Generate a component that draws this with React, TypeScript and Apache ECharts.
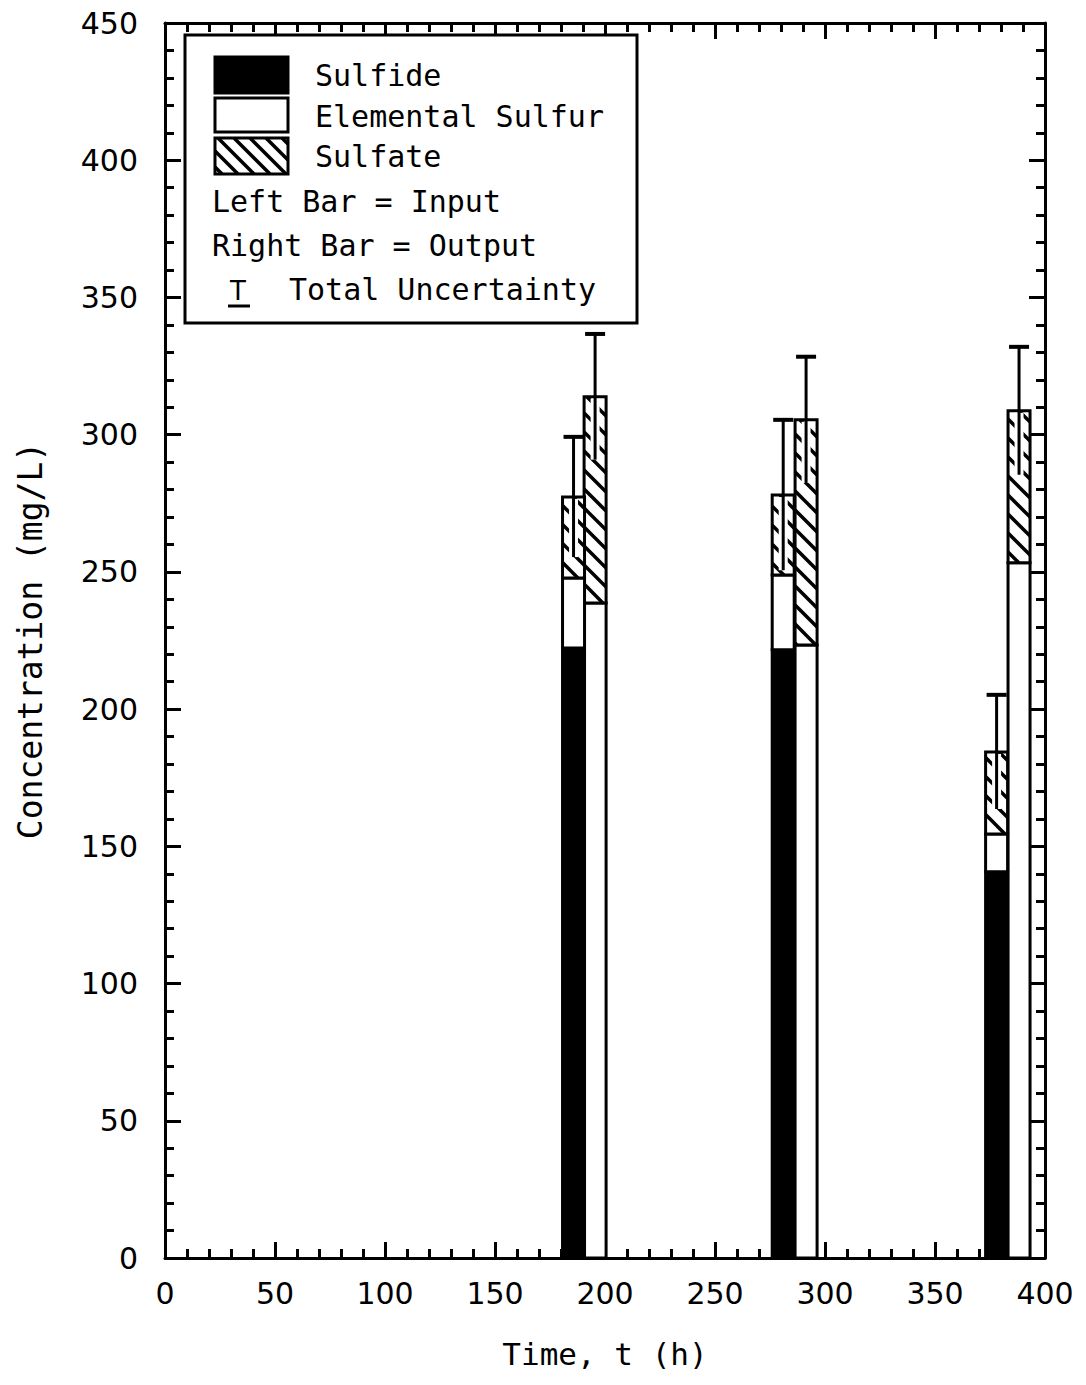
import React, { useEffect, useRef } from "react";
import * as echarts from "echarts";

// ---- data ----
const inputTimes = [185.7, 281.0, 378.0];
const outputTimes = [195.5, 291.4, 388.2];
const inputSulfide = [222.3, 221.6, 140.7];
const inputElemental = [25.5, 27.3, 13.8];
const inputSulfate = [29.5, 29.1, 29.9];
const inputUncertainty = [21.9, 27.4, 20.8];
const outputSulfide = [0, 0, 0];
const outputElemental = [238.7, 223.4, 253.3];
const outputSulfate = [75.1, 82.0, 55.4];
const outputUncertainty = [22.9, 23.0, 23.3];
const legendLabels = ["Sulfide", "Elemental Sulfur", "Sulfate"];
const legendNotes = ["Left Bar = Input", "Right Bar = Output", "Total Uncertainty"];
const xTitle = "Time, t (h)";
const yTitle = "Concentration (mg/L)";

const BAR_HALF_WIDTH_H = 5;
const MONO = '"DejaVu Sans Mono", monospace';
const SANS = '"DejaVu Sans", sans-serif';

function hatchLines(x0: number, y0: number, x1: number, y1: number, spacing: number, lw: number) {
  const out: any[] = [];
  const cMin = y0 - x1;
  const cMax = y1 - x0;
  const kStart = Math.ceil(cMin / spacing);
  for (let k = kStart; k * spacing <= cMax; k++) {
    const c = k * spacing;
    const xs = Math.max(x0, y0 - c);
    const xe = Math.min(x1, y1 - c);
    if (xe - xs > 0.5) {
      out.push({
        type: "line",
        shape: { x1: xs, y1: xs + c, x2: xe, y2: xe + c },
        style: { stroke: "#000", lineWidth: 3.5 },
      });
    }
  }
  return out;
}

function makeRender(
  times: number[],
  sulfide: number[],
  elemental: number[],
  sulfate: number[],
  unc: number[]
) {
  return (params: any, api: any) => {
    const i = params.dataIndex;
    const t = times[i];
    const xl = api.coord([t - BAR_HALF_WIDTH_H, 0])[0];
    const xr = api.coord([t + BAR_HALF_WIDTH_H, 0])[0];
    const y0 = api.coord([t, 0])[1];
    const y1 = api.coord([t, sulfide[i]])[1];
    const y2 = api.coord([t, sulfide[i] + elemental[i]])[1];
    const total = sulfide[i] + elemental[i] + sulfate[i];
    const y3 = api.coord([t, total])[1];
    const eHi = api.coord([t, total + unc[i]])[1];
    const eLo = api.coord([t, total - unc[i]])[1];
    const xc = (xl + xr) / 2;
    const w = xr - xl;
    const children: any[] = [];
    if (sulfide[i] > 0) {
      children.push({
        type: "rect",
        shape: { x: xl, y: y1, width: w, height: y0 - y1 },
        style: { fill: "#000", stroke: "#000", lineWidth: 3 },
      });
    }
    children.push({
      type: "rect",
      shape: { x: xl, y: y2, width: w, height: y1 - y2 },
      style: { fill: "#fff", stroke: "#000", lineWidth: 3 },
    });
    children.push({
      type: "rect",
      shape: { x: xl, y: y3, width: w, height: y2 - y3 },
      style: { fill: "#fff", stroke: "none" },
    });
    children.push(...hatchLines(xl, y3, xr, y2, 19, 3.5));
    children.push({
      type: "rect",
      shape: { x: xl, y: y3, width: w, height: y2 - y3 },
      style: { fill: "none", stroke: "#000", lineWidth: 3 },
    });
    // error bar
    children.push({
      type: "line",
      shape: { x1: xc, y1: y3 + 2, x2: xc, y2: eLo },
      style: { stroke: "#fff", lineWidth: 9 },
    });
    children.push({
      type: "line",
      shape: { x1: xc, y1: eHi, x2: xc, y2: eLo },
      style: { stroke: "#000", lineWidth: 3 },
    });
    children.push({
      type: "line",
      shape: { x1: xc - 10, y1: eHi, x2: xc + 10, y2: eHi },
      style: { stroke: "#000", lineWidth: 4 },
    });
    return { type: "group", children };
  };
}

function axisCommon(extra: any) {
  return {
    type: "value",
    axisLine: { show: true, onZero: false, lineStyle: { color: "#000", width: 3 } },
    axisTick: { show: true, inside: true, length: 16, lineStyle: { color: "#000", width: 3 } },
    minorTick: { show: true, splitNumber: 5, length: 9, lineStyle: { color: "#000", width: 3 } },
    splitLine: { show: false },
    minorSplitLine: { show: false },
    ...extra,
  };
}

export default function App() {
  const ref = useRef<HTMLDivElement>(null);
  useEffect(() => {
    if (!ref.current) return;
    const chart = echarts.init(ref.current, undefined, { renderer: "svg" });

    const legendX = 185;
    const legendY = 35;
    const swX = 215;
    const swW = 73;
    const textX = 315;
    const graphics: any[] = [
      {
        type: "rect",
        shape: { x: legendX, y: legendY, width: 452, height: 288 },
        style: { fill: "#fff", stroke: "#000", lineWidth: 3 },
        z: 100,
      },
      {
        type: "rect",
        shape: { x: swX, y: 57, width: swW, height: 36 },
        style: { fill: "#000", stroke: "#000", lineWidth: 3 },
        z: 101,
      },
      {
        type: "rect",
        shape: { x: swX, y: 98, width: swW, height: 34 },
        style: { fill: "#fff", stroke: "#000", lineWidth: 3 },
        z: 101,
      },
      ...hatchLines(swX, 138, swX + swW, 174, 16, 3).map((l) => ({ ...l, z: 101 })),
      {
        type: "rect",
        shape: { x: swX, y: 138, width: swW, height: 36 },
        style: { fill: "none", stroke: "#000", lineWidth: 3 },
        z: 102,
      },
      ...legendLabels.map((txt, k) => ({
        type: "text",
        x: textX,
        y: [75, 116, 156][k],
        style: { text: txt, fill: "#000", font: `30px ${MONO}`, verticalAlign: "middle", align: "left" },
        z: 103,
      })),
      {
        type: "text",
        x: 212,
        y: 201,
        style: { text: legendNotes[0], fill: "#000", font: `30px ${MONO}`, verticalAlign: "middle", align: "left" },
        z: 103,
      },
      {
        type: "text",
        x: 212,
        y: 245,
        style: { text: legendNotes[1], fill: "#000", font: `30px ${MONO}`, verticalAlign: "middle", align: "left" },
        z: 103,
      },
      {
        type: "text",
        x: 289,
        y: 289,
        style: { text: legendNotes[2], fill: "#000", font: `30px ${MONO}`, verticalAlign: "middle", align: "left" },
        z: 103,
      },
      {
        type: "text",
        x: 238,
        y: 291,
        style: { text: "T", fill: "#000", font: `26px ${SANS}`, verticalAlign: "middle", align: "center" },
        z: 103,
      },
      {
        type: "line",
        shape: { x1: 228, y1: 306, x2: 250, y2: 306 },
        style: { stroke: "#000", lineWidth: 3 },
        z: 103,
      },
    ];

    const option: any = {
      animation: false,
      backgroundColor: "#fff",
      grid: { left: 165, right: 41, top: 23, bottom: 127, containLabel: false },
      xAxis: [
        axisCommon({
          min: 0,
          max: 400,
          interval: 50,
          position: "bottom",
          axisLabel: { show: true, margin: 20, color: "#000", fontSize: 30, fontFamily: SANS },
          name: xTitle,
          nameLocation: "middle",
          nameGap: 80,
          nameTextStyle: { color: "#000", fontSize: 31, fontFamily: MONO },
        }),
        axisCommon({
          min: 0,
          max: 400,
          interval: 50,
          position: "top",
          axisLabel: { show: false },
        }),
      ],
      yAxis: [
        axisCommon({
          min: 0,
          max: 450,
          interval: 50,
          position: "left",
          axisLabel: { show: true, margin: 27, color: "#000", fontSize: 30, fontFamily: SANS },
          name: yTitle,
          nameLocation: "middle",
          nameGap: 118,
          nameTextStyle: { color: "#000", fontSize: 33, fontFamily: MONO },
        }),
        axisCommon({
          min: 0,
          max: 450,
          interval: 50,
          position: "right",
          axisLabel: { show: false },
        }),
      ],
      series: [
        {
          type: "custom",
          name: "Input",
          xAxisIndex: 0,
          yAxisIndex: 0,
          silent: true,
          clip: false,
          data: inputTimes.map((t, i) => [t, inputSulfide[i] + inputElemental[i] + inputSulfate[i]]),
          renderItem: makeRender(inputTimes, inputSulfide, inputElemental, inputSulfate, inputUncertainty),
          z: 5,
        },
        {
          type: "custom",
          name: "Output",
          xAxisIndex: 0,
          yAxisIndex: 0,
          silent: true,
          clip: false,
          data: outputTimes.map((t, i) => [t, outputSulfide[i] + outputElemental[i] + outputSulfate[i]]),
          renderItem: makeRender(outputTimes, outputSulfide, outputElemental, outputSulfate, outputUncertainty),
          z: 4,
        },
      ],
      graphic: graphics,
    };
    chart.setOption(option);
    return () => chart.dispose();
  }, []);

  return (
    <div
      ref={ref}
      style={{ position: "absolute", left: 0, top: 0, width: 1086, height: 1385, background: "#fff" }}
    />
  );
}
